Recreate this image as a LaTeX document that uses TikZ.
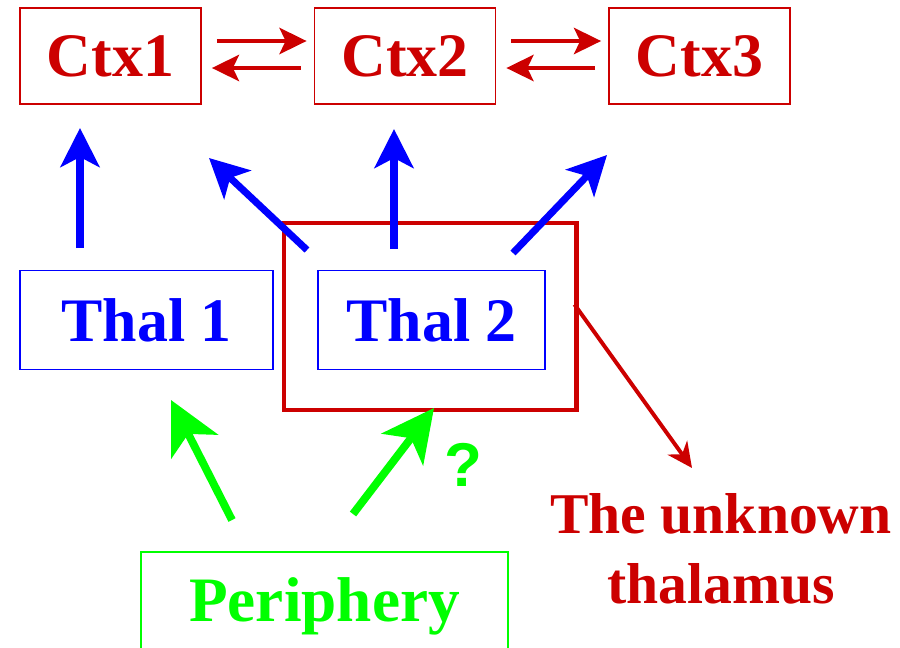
\documentclass[tikz,border=0pt]{standalone}
\usepackage{fontspec}
\setmainfont{Liberation Serif}
\newfontfamily\qfont{Liberation Sans}
\usepackage{tikz}
\usetikzlibrary{arrows.meta,positioning,calc}
\definecolor{ctxred}{RGB}{204,0,0}
\definecolor{thalblue}{RGB}{0,0,255}
\definecolor{perigreen}{RGB}{0,255,0}

\begin{document}
\begin{tikzpicture}[
  x=0.025cm, y=-0.025cm,
  ctxbox/.style={
    draw=ctxred, line width=1.2pt, text=ctxred,
    minimum width=4.525cm, minimum height=2.4cm,
    font=\fontsize{44}{48}\selectfont\bfseries
  },
  thalbox/.style={
    draw=thalblue, line width=1.2pt, text=thalblue,
    minimum height=2.475cm,
    font=\fontsize{44}{48}\selectfont\bfseries
  },
  peribox/.style={
    draw=perigreen, line width=1.5pt, text=perigreen,
    minimum width=9.175cm, minimum height=2.7cm,
    font=\fontsize{45}{48}\selectfont\bfseries
  },
  unkbox/.style={
    draw=ctxred, line width=3.5pt,
    minimum width=7.3cm, minimum height=4.675cm
  },
  carr/.style={-{Stealth[length=0.675cm,width=0.65cm,inset=0.15cm]},
    line width=3.5pt, ctxred},
  tarr/.style={-{Stealth[length=0.975cm,width=0.975cm,inset=0.25cm]},
    line width=5pt, thalblue},
  parr/.style={-{Stealth[length=1.3cm,width=1.3cm,inset=0.35cm]},
    line width=5.6pt, perigreen},
  narr/.style={-{Stealth[length=0.625cm,width=0.6cm,inset=0.2cm]},
    line width=2.8pt, ctxred},
]
\useasboundingbox (0,0) rectangle (900,647);

% cortex
\node[ctxbox] (ctx1) at (110.5,56) {Ctx1};
\node[ctxbox] (ctx2) at (405,56)   {Ctx2};
\node[ctxbox] (ctx3) at (699.5,56) {Ctx3};

% thalamus
\node[unkbox] (unk) at (430,316.5) {};
\node[thalbox,minimum width=6.325cm] (thal1) at (146.5,320) {Thal 1};
\node[thalbox,minimum width=5.675cm] (thal2) at (431.5,320) {Thal 2};

% periphery
\node[peribox] (peri) at (324.5,606) {Periphery};
\node[text=perigreen,font=\fontsize{44}{48}\qfont\bfseries] (q) at (463,465) {?};
\node[text=ctxred,align=center,font=\fontsize{41}{49.6}\selectfont\bfseries]
  (lbl) at (721,549) {The unknown\\thalamus};

% free ends
\coordinate (b1s) at (80,248);  \coordinate (b1e) at (80,128);
\coordinate (b2s) at (307,250); \coordinate (b2e) at (209,158);
\coordinate (b3s) at (394,249); \coordinate (b3e) at (394,129);
\coordinate (b4s) at (513,253); \coordinate (b4e) at (607,155);
\coordinate (g1s) at (232,520); \coordinate (g1e) at (171,400);
\coordinate (g2s) at (353,514); \coordinate (g2e) at (434,408);
\coordinate (ne) at (692,468);

% cortico-cortical
\draw[carr] ([shift={(15,-15)}]ctx1.east) -- ([shift={(-7,-15)}]ctx2.west);
\draw[carr] ([shift={(-13,12)}]ctx2.west) -- ([shift={(10,12)}]ctx1.east);
\draw[carr] ([shift={(15,-15)}]ctx2.east) -- ([shift={(-7,-15)}]ctx3.west);
\draw[carr] ([shift={(-13,12)}]ctx3.west) -- ([shift={(10,12)}]ctx2.east);

% thalamo-cortical
\draw[tarr] (b1s) -- (b1e);
\draw[tarr] (b2s) -- (b2e);
\draw[tarr] (b3s) -- (b3e);
\draw[tarr] (b4s) -- (b4e);

% input
\draw[parr] (g1s) -- (g1e);
\draw[parr] (g2s) -- (g2e);

\draw[narr] ([shift={(-4,-12)}]unk.east) -- (ne);
\end{tikzpicture}
\end{document}
